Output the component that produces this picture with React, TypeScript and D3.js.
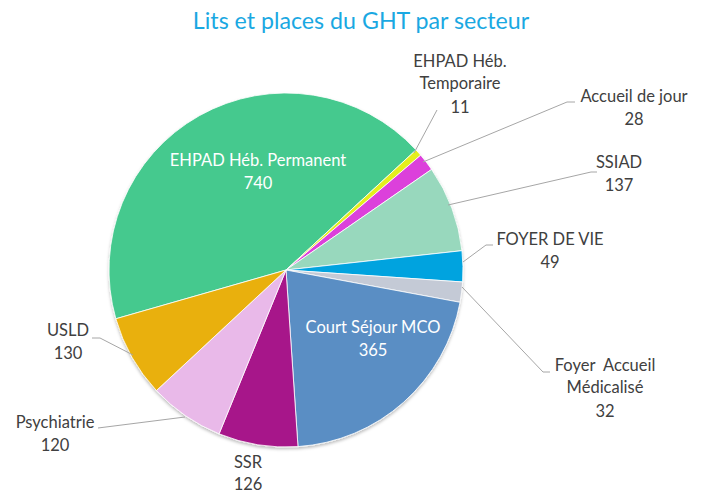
import React from "react";
import * as d3 from "d3";

const categories = [
  "EHPAD Héb. Permanent",
  "EHPAD Héb. Temporaire",
  "Accueil de jour",
  "SSIAD",
  "FOYER DE VIE",
  "Foyer  Accueil Médicalisé",
  "Court Séjour MCO",
  "SSR",
  "Psychiatrie",
  "USLD",
];
const values = [740, 11, 28, 137, 49, 32, 365, 126, 120, 130];
const colors = [
  "#45c98e", "#e4ef1c", "#dc40db", "#98d8bd", "#00a3df",
  "#c4cad6", "#5a8ec4", "#a7178a", "#e9b9e9", "#e9b00b",
];

// label layout: text lines, anchor centre, leader polyline (null = none)
type Lab = { lines: string[]; x: number; y: number; inside?: boolean; leader?: [number, number][] };
const labels: Lab[] = [
  { lines: ["EHPAD Héb. Permanent", "740"], x: 258, y: 166, inside: true },
  { lines: ["EHPAD Héb.", "Temporaire", "11"], x: 460, y: 67, leader: [[437, 110], [414, 153]] },
  { lines: ["Accueil de jour", "28"], x: 634, y: 102, leader: [[575, 102], [567, 102], [423, 162]] },
  { lines: ["SSIAD", "137"], x: 619, y: 168, leader: [[597, 172], [591, 172], [448, 205]] },
  { lines: ["FOYER DE VIE", "49"], x: 550, y: 245, leader: [[493, 245], [486, 245], [463, 262]] },
  { lines: ["Foyer  Accueil", "Médicalisé", "32"], x: 605, y: 371, leader: [[550, 372], [543, 372], [462, 287]] },
  { lines: ["Court Séjour MCO", "365"], x: 373, y: 333, inside: true },
  { lines: ["SSR", "126"], x: 248, y: 468 },
  { lines: ["Psychiatrie", "120"], x: 55, y: 428, leader: [[98, 428], [185, 417]] },
  { lines: ["USLD", "130"], x: 68, y: 336, leader: [[92, 338], [100, 338], [133, 355]] },
];
const lineGaps: Record<number, number[]> = {
  1: [0, 22, 46],
  5: [0, 22, 46],
  7: [0, 22],
};

const W = 702, H = 495;
const cx = 286, cy = 270, R = 177;
const startDeg = 254;

export default function App() {
  const pie = d3
    .pie<number>()
    .sort(null)
    .value((d) => d)
    .startAngle((startDeg * Math.PI) / 180)
    .endAngle(((startDeg + 360) * Math.PI) / 180);
  const arcs = pie(values);
  const arc = d3.arc<d3.PieArcDatum<number>>().innerRadius(0).outerRadius(R);
  const font = "Lato, 'Noto Sans', sans-serif";
  return (
    <svg width={W} height={H} style={{ position: "absolute", left: 0, top: 0 }}>
      <defs>
        <filter id="sh" x="-10%" y="-10%" width="120%" height="125%">
          <feDropShadow dx="0" dy="2" stdDeviation="1.5" floodColor="#000" floodOpacity="0.25" />
        </filter>
      </defs>
      <rect width={W} height={H} fill="#fff" />
      <text x={361} y={29} textAnchor="middle" fontFamily={font} fontSize={23.2} fill="#1aa8e2">
        Lits et places du GHT par secteur
      </text>
      <g transform={`translate(${cx},${cy})`} filter="url(#sh)">
        {arcs.map((a, i) => (
          <path key={i} d={arc(a) || ""} fill={colors[i]} stroke="#fff" strokeWidth={0.8} />
        ))}
      </g>
      {labels.map((l, i) => (
        <g key={i}>
          {l.leader && (
            <polyline
              points={l.leader.map((p) => p.join(",")).join(" ")}
              fill="none"
              stroke="#a6a6a6"
              strokeWidth={1}
            />
          )}
          <text
            textAnchor="middle"
            fontFamily={font}
            fontSize={16.5}
            fill={l.inside ? "#ffffff" : "#404040"}
          >
            {l.lines.map((t, j) => (
              <tspan key={j} x={l.x} y={l.y + (lineGaps[i] ? lineGaps[i][j] : j * 23)} style={{ whiteSpace: "pre" }}>
                {t}
              </tspan>
            ))}
          </text>
        </g>
      ))}
    </svg>
  );
}
